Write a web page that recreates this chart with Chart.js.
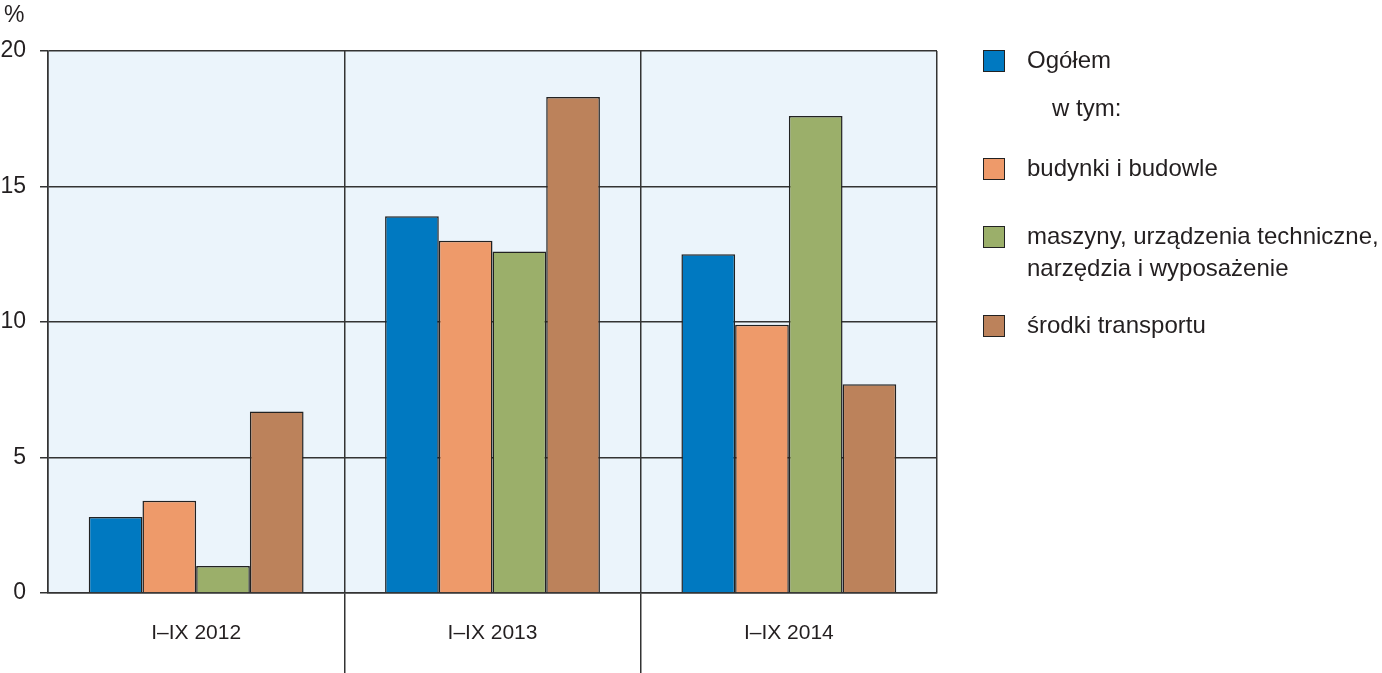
<!DOCTYPE html>
<html>
<head>
<meta charset="utf-8">
<script src="https://cdn.jsdelivr.net/npm/chart.js@4.4.1/dist/chart.umd.min.js"></script>
<style>
  html, body { margin: 0; padding: 0; background: #fff; }
  #wrap { position: relative; width: 1382px; height: 673px; font-family: "Liberation Sans", Arial, sans-serif; color: #231f20; }
  canvas { position: absolute; left: 0; top: 0; }
  .unit { position: absolute; left: 4px; top: 1px; font-size: 23px; }
  .leg { position: absolute; font-size: 24px; line-height: 32px; }
  .box { position: absolute; width: 22px; height: 22px; border: 1.5px solid #222; box-sizing: border-box; }
</style>
</head>
<body>
<div id="wrap">
  <canvas id="c" width="1382" height="673"></canvas>
  <div class="unit">%</div>
  <div id="legend"></div>
</div>
<script>
const categories = ["I–IX 2012", "I–IX 2013", "I–IX 2014"];
const seriesNames = ["Ogółem", "budynki i budowle", "maszyny, urządzenia techniczne, narzędzia i wyposażenie", "środki transportu"];
const ogolem = [2.8, 13.9, 12.5];
const budynki = [3.4, 13.0, 9.9];
const maszyny = [1.0, 12.6, 17.6];
const transport = [6.7, 18.3, 7.7];
const yTicks = [0, 5, 10, 15, 20];

const colors = ["#0079c1", "#ee9a6a", "#9baf6a", "#bc825b"];
const values = [ogolem, budynki, maszyny, transport];

const bgPlugin = {
  id: 'bg',
  beforeDraw(chart) {
    const a = chart.chartArea, ctx = chart.ctx;
    ctx.save();
    ctx.fillStyle = '#ebf4fb';
    ctx.fillRect(a.left, a.top, a.right - a.left, a.bottom - a.top);
    ctx.restore();
  }
};

new Chart(document.getElementById('c'), {
  type: 'bar',
  data: {
    labels: categories,
    datasets: values.map((v, i) => ({
      label: seriesNames[i],
      data: v,
      backgroundColor: colors[i],
      borderColor: '#222',
      borderWidth: 1.5,
      categoryPercentage: 0.725,
      barPercentage: 1.0
    }))
  },
  options: {
    responsive: false,
    animation: false,
    devicePixelRatio: 1,
    layout: { padding: { left: 0, right: 445, top: 51, bottom: 0 } },
    plugins: { legend: { display: false }, tooltip: { enabled: false } },
    scales: {
      x: {
        offset: true,
        grid: {
          offset: true,
          color: '#333',
          lineWidth: 1.5,
          tickLength: 80,
          tickColor: (ctx) => (ctx.index > 0 && ctx.index < categories.length) ? '#333' : 'rgba(0,0,0,0)',
          tickWidth: 1.5
        },
        border: { display: true, color: '#333', width: 1.5 },
        ticks: { color: '#231f20', font: { family: 'Liberation Sans', size: 21 }, padding: -52 },
        afterFit(scale) { scale.height = 80; }
      },
      y: {
        min: 0, max: 20,
        afterBuildTicks(scale) { scale.ticks = yTicks.map(v => ({ value: v })); },
        grid: { color: '#333', lineWidth: 1.5, tickLength: 8, tickColor: '#333' },
        border: { display: true, color: '#333', width: 1.5 },
        ticks: { color: '#231f20', font: { family: 'Liberation Sans', size: 23 }, padding: 14 },
        afterFit(scale) { scale.width = 48; }
      }
    }
  },
  plugins: [bgPlugin]
});

// legend (HTML)
const legend = document.getElementById('legend');
const legendRows = [
  { type: 'box', idx: 0, top: 44, text: seriesNames[0] },
  { type: 'text', top: 92, left: 1052, text: 'w tym:' },
  { type: 'box', idx: 1, top: 152, text: seriesNames[1] },
  { type: 'box', idx: 2, top: 220, text: 'maszyny, urządzenia techniczne,<br>narzędzia i wyposażenie' },
  { type: 'box', idx: 3, top: 309, text: seriesNames[3] }
];
legendRows.forEach(r => {
  if (r.type === 'box') {
    const b = document.createElement('div');
    b.className = 'box';
    b.style.left = '983px';
    b.style.top = (r.top + 6) + 'px';
    b.style.background = colors[r.idx];
    legend.appendChild(b);
  }
  const t = document.createElement('div');
  t.className = 'leg';
  t.style.left = (r.left || 1027) + 'px';
  t.style.top = r.top + 'px';
  t.innerHTML = r.text;
  legend.appendChild(t);
});
</script>
</body>
</html>
